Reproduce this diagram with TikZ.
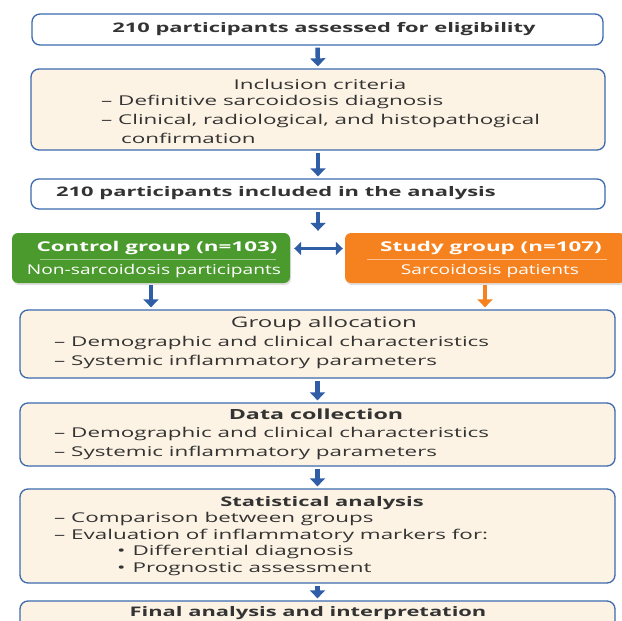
\documentclass[tikz,border=0pt]{standalone}
\usepackage{fontspec}
\setmainfont{Open Sans}[FakeStretch=1.66]
\newfontfamily\wfont{Open Sans}[FakeStretch=1.42]
\usetikzlibrary{arrows.meta,shadows}
\definecolor{bblue}{HTML}{3D6AAE}
\definecolor{ablue}{HTML}{2F5DA6}
\definecolor{cream}{HTML}{FCF3E4}
\definecolor{ggreen}{HTML}{4B9A2D}
\definecolor{oorange}{HTML}{F5821F}
\definecolor{tgray}{HTML}{333333}
\tikzset{
 box/.style={draw=bblue, line width=1.3pt, rounded corners=8pt, inner sep=0pt},
 wbox/.style={box, fill=white},
 cbox/.style={box, fill=cream},
 txt/.style={font=\fontsize{13.5}{15}\selectfont, text=tgray, inner sep=0pt},
 hd/.style={txt, font=\fontsize{13.2}{15}\selectfont\bfseries},
 gbox/.style={rounded corners=6pt, inner sep=0pt, drop shadow={opacity=0.25,shadow xshift=1pt,shadow yshift=-2pt}},
 wt/.style={font=\fontsize{13.5}{15}\selectfont\wfont, text=white, inner sep=0pt},
 wth/.style={font=\fontsize{13.5}{16}\selectfont\bfseries, text=white, inner sep=0pt},
 arr/.style={-{Triangle[width=15pt,length=8pt]}, line width=4.5pt, ablue, shorten <=2pt, shorten >=2pt},
 oarr/.style={arr, oorange},
 darr/.style={{Triangle[width=13pt,length=7pt]}-{Triangle[width=13pt,length=7pt]}, line width=3.2pt, ablue, shorten <=4pt, shorten >=2pt},
}
\begin{document}
\begin{tikzpicture}[x=1pt,y=-1pt]
\clip (0,0) rectangle (622,621);
\fill[white] (0,0) rectangle (622,621);
% box 1
\node[wbox, minimum width=571pt, minimum height=31pt] (b1) at (317.5,29.5) {};
\node[hd] (t1) at (324,29) {210 participants assessed for eligibility};
% box 2
\node[cbox, minimum width=574pt, minimum height=81pt] (b2) at (318,109.5) {};
\node[txt] (t2) at (320,84) {Inclusion criteria};
\node[txt, anchor=west] (t2a) at (101,102) {– Definitive sarcoidosis diagnosis};
\node[txt, anchor=west] (t2b) at (101,121) {– Clinical, radiological, and histopathogical};
\node[txt, anchor=west] (t2c) at (121,138) {confirmation};
% box 3
\node[wbox, minimum width=574pt, minimum height=30pt] (b3) at (318,194) {};
\node[hd, anchor=west] (t3) at (56,193) {210 participants included in the analysis};
% groups
\node[gbox, fill=ggreen, minimum width=278pt, minimum height=50pt] (g) at (151,258) {};
\node[wth] (gt) at (157,248) {Control group (n=103)};
\draw[white, opacity=0.45, line width=0.6pt] (40,259) coordinate (gl1) -- (276,259) coordinate (gl2);
\node[wt] (gs) at (154,271) {Non-sarcoidosis participants};
\node[gbox, fill=oorange, minimum width=280pt, minimum height=50pt] (o) at (485,258) {};
\node[wth] (ot) at (491,248) {Study group (n=107)};
\draw[white, opacity=0.5, line width=0.6pt] (367,259) coordinate (ol1) -- (607,259) coordinate (ol2);
\node[wt] (os) at (490,271) {Sarcoidosis patients};
% allocation
\node[cbox, minimum width=595pt, minimum height=68pt] (b4) at (317.5,344) {};
\node[txt, font=\fontsize{14.5}{16}\selectfont] (t4) at (324,324) {Group allocation};
\node[txt, anchor=west] (t4a) at (54,343) {– Demographic and clinical characteristics};
\node[txt, anchor=west] (t4b) at (54,362) {– Systemic inflammatory parameters};
% data collection
\node[cbox, minimum width=595pt, minimum height=63pt] (b5) at (317.5,434.5) {};
\node[hd, font=\fontsize{14}{16}\selectfont\bfseries] (t5) at (316,414) {Data collection};
\node[txt, anchor=west] (t5a) at (54,434) {– Demographic and clinical characteristics};
\node[txt, anchor=west] (t5b) at (54,453) {– Systemic inflammatory parameters};
% statistical
\node[cbox, minimum width=595pt, minimum height=94pt] (b6) at (317.5,536) {};
\node[hd] (t6) at (322,503) {Statistical analysis};
\node[txt, anchor=west] (t6a) at (54,519) {– Comparison between groups};
\node[txt, anchor=west] (t6b) at (54,536) {– Evaluation of inflammatory markers for:};
\node[txt, anchor=west] (t6c) at (117,552) {•\hspace{7pt}Differential diagnosis};
\node[txt, anchor=west] (t6d) at (117,569) {•\hspace{7pt}Prognostic assessment};
% final
\node[cbox, minimum width=595pt, minimum height=44pt] (b7) at (317.5,623) {};
\node[hd] (t7) at (308,613) {Final analysis and interpretation};
% arrows
\draw[arr] (b1.south) -- (b2.north);
\draw[arr] (b2.south) -- (b3.north);
\draw[arr] (b3.south) -- (b3.south |- g.north);
\draw[darr] ([yshift=9.5pt]g.east) -- ([yshift=9.5pt]o.west);
\draw[arr] (g.south) -- (g.south |- b4.north);
\draw[oarr] (o.south) -- (o.south |- b4.north);
\draw[arr] (b4.south) -- (b5.north);
\draw[arr] (b5.south) -- (b6.north);
\draw[arr] (b6.south) -- (b7.north);
\end{tikzpicture}
\end{document}
